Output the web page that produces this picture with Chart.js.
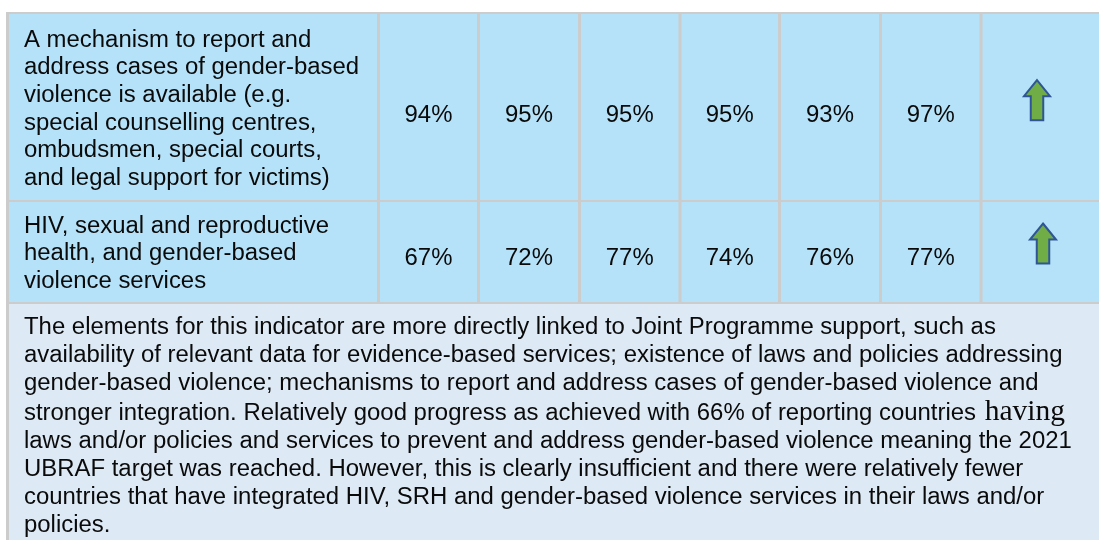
<!DOCTYPE html>
<html>
<head>
<meta charset="utf-8">
<title>Gender-based violence indicator</title>
<script src="https://cdn.jsdelivr.net/npm/chart.js@4.4.1/dist/chart.umd.min.js"></script>
<style>
  html, body { margin: 0; padding: 0; background: #ffffff; }
  #wrap { position: relative; width: 1099px; height: 540px; }
</style>
</head>
<body>
<div id="wrap"><canvas id="tableChart"></canvas></div>
<script>
// row texts, broken the same way as in the report
const indicatorLines = [
  ['A mechanism to report and', 'address cases of gender-based', 'violence is available (e.g.',
   'special counselling centres,', 'ombudsmen, special courts,', 'and legal support for victims)'],
  ['HIV, sexual and reproductive', 'health, and gender-based', 'violence services']
];
const mechanismValues = [94, 95, 95, 95, 93, 97];
const servicesValues = [67, 72, 77, 74, 76, 77];
const trends = ['up', 'up'];
const commentaryLines = [
  'The elements for this indicator are more directly linked to Joint Programme support, such as',
  'availability of relevant data for evidence-based services; existence of laws and policies addressing',
  'gender-based violence; mechanisms to report and address cases of gender-based violence and',
  'stronger integration. Relatively good progress as achieved with 66% of reporting countries having',
  'laws and/or policies and services to prevent and address gender-based violence meaning the 2021',
  'UBRAF target was reached. However, this is clearly insufficient and there were relatively fewer',
  'countries that have integrated HIV, SRH and gender-based violence services in their laws and/or',
  'policies.'
];
const serifWord = 'having';

// layout (in table units, mapped through the chart scales)
const colEdges = [7.5, 378.5, 478.5, 579.5, 680, 779.5, 880.5, 981, 1120];
const rowEdges = [13, 201, 303, 560];
const labelX = 24;
const labelFirstBase = [46.7, 232.7];
const valueBase = [121.7, 265];
const arrowX = [1037, 1043];
const lineStep = 27.6;
const commentaryFirstBase = 334.3;
const commentaryStep = 27.8;
const commentaryGap = { line: 3, extra: 2.6 };

const cellBlue = '#b5e2f8';
const noteBlue = '#dde9f5';
const gridGrey = '#cccccc';
const textCol = '#0a0a0a';
const sansFont = '23px "Liberation Sans", Arial, sans-serif';
const serifFont = '29.5px "Liberation Serif", "Times New Roman", serif';
const stretchX = 1.04;

function drawText(ctx, text, x, y, align) {
  ctx.save();
  ctx.translate(x, y);
  ctx.scale(stretchX, 1);
  ctx.textAlign = align || 'left';
  ctx.fillText(text, 0, 0);
  ctx.restore();
}

function drawArrow(ctx, cx, bottom, xs, ys) {
  const h = 40, headH = 16, headW = 26, shaftW = 12.5;
  const px = v => xs.getPixelForValue(v);
  const py = v => ys.getPixelForValue(v);
  const top = bottom - h;
  ctx.save();
  ctx.beginPath();
  ctx.moveTo(px(cx), py(top));
  ctx.lineTo(px(cx + headW / 2), py(top + headH));
  ctx.lineTo(px(cx + shaftW / 2), py(top + headH));
  ctx.lineTo(px(cx + shaftW / 2), py(bottom));
  ctx.lineTo(px(cx - shaftW / 2), py(bottom));
  ctx.lineTo(px(cx - shaftW / 2), py(top + headH));
  ctx.lineTo(px(cx - headW / 2), py(top + headH));
  ctx.closePath();
  ctx.fillStyle = '#70ad47';
  ctx.fill();
  ctx.lineWidth = 2;
  ctx.strokeStyle = '#2f5597';
  ctx.lineJoin = 'miter';
  ctx.stroke();
  ctx.restore();
}

const tablePlugin = {
  id: 'tablePlugin',
  beforeDatasetsDraw(chart) {
    const ctx = chart.ctx;
    const xs = chart.scales.x, ys = chart.scales.y;
    const px = v => xs.getPixelForValue(v);
    const py = v => ys.getPixelForValue(v);
    const left = colEdges[0], right = colEdges[colEdges.length - 1];

    ctx.save();
    // backgrounds
    ctx.fillStyle = cellBlue;
    ctx.fillRect(px(left), py(rowEdges[0]), px(right) - px(left), py(rowEdges[2]) - py(rowEdges[0]));
    ctx.fillStyle = noteBlue;
    ctx.fillRect(px(left), py(rowEdges[2]), px(right) - px(left), py(rowEdges[3]) - py(rowEdges[2]));

    // grid
    ctx.strokeStyle = gridGrey;
    ctx.lineWidth = 2;
    rowEdges.slice(0, 3).forEach(r => {
      ctx.beginPath();
      ctx.moveTo(px(left), py(r));
      ctx.lineTo(px(right), py(r));
      ctx.stroke();
    });
    ctx.lineWidth = 3;
    ctx.beginPath();
    ctx.moveTo(px(left), py(rowEdges[0] - 1));
    ctx.lineTo(px(left), py(rowEdges[3]));
    ctx.stroke();
    colEdges.slice(1, colEdges.length - 1).forEach(c => {
      ctx.beginPath();
      ctx.moveTo(px(c), py(rowEdges[0]));
      ctx.lineTo(px(c), py(rowEdges[2]));
      ctx.stroke();
    });

    // indicator rows
    ctx.font = sansFont;
    ctx.textBaseline = 'alphabetic';
    const rowValues = [mechanismValues, servicesValues];
    indicatorLines.forEach((lines, r) => {
      ctx.fillStyle = textCol;
      lines.forEach((line, i) => {
        drawText(ctx, line, px(labelX), py(labelFirstBase[r] + i * lineStep), 'left');
      });
      rowValues[r].forEach((v, c) => {
        const cx = (colEdges[c + 1] + colEdges[c + 2]) / 2;
        drawText(ctx, v + '%', px(cx), py(valueBase[r]), 'center');
      });
      if (trends[r] === 'up') drawArrow(ctx, arrowX[r], valueBase[r] - 1.5, xs, ys);
    });

    // commentary
    ctx.fillStyle = textCol;
    commentaryLines.forEach((line, i) => {
      const y = commentaryFirstBase + i * commentaryStep + (i >= commentaryGap.line ? commentaryGap.extra : 0);
      if (line.endsWith(' ' + serifWord)) {
        const head = line.slice(0, line.length - serifWord.length);
        ctx.font = sansFont;
        drawText(ctx, head, px(labelX), py(y), 'left');
        const w = ctx.measureText(head).width * stretchX;
        ctx.save();
        ctx.font = serifFont;
        ctx.textAlign = 'left';
        ctx.fillText(serifWord, px(labelX) + w + 2, py(y));
        ctx.restore();
      } else {
        ctx.font = sansFont;
        drawText(ctx, line, px(labelX), py(y), 'left');
      }
    });
    ctx.restore();
  }
};

new Chart(document.getElementById('tableChart'), {
  type: 'scatter',
  data: { datasets: [{ data: [] }] },
  options: {
    responsive: true,
    maintainAspectRatio: false,
    animation: false,
    events: [],
    layout: { padding: 0 },
    plugins: { legend: { display: false }, tooltip: { enabled: false } },
    scales: {
      x: { type: 'linear', min: 0, max: 1099, display: false },
      y: { type: 'linear', min: 0, max: 540, reverse: true, display: false }
    }
  },
  plugins: [tablePlugin]
});
</script>
</body>
</html>
